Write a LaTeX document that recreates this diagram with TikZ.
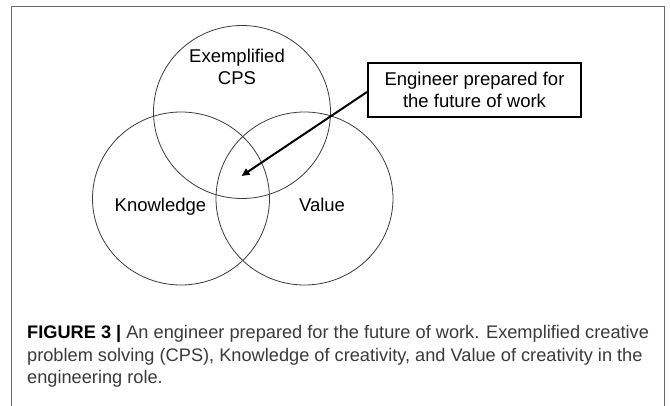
\documentclass[tikz,border=0pt]{standalone}
\usepackage{fontspec}
\setmainfont{Liberation Sans}
\usetikzlibrary{arrows.meta}
\definecolor{framegray}{HTML}{6A6A6A}
\definecolor{circgray}{HTML}{3C3C3C}
\definecolor{captext}{HTML}{3A3A3A}
\tikzset{
  venn/.style={draw=circgray, line width=0.8pt},
  vlabel/.style={font=\fontsize{18.5}{22}\selectfont, text=black, inner sep=0pt, align=center},
  notebox/.style={draw=black, line width=2pt, minimum width=213pt, minimum height=54pt, inner sep=0pt, align=center, font=\fontsize{18.5}{21.5}\selectfont},
  pointer/.style={draw=black, line width=2pt, -{Triangle[length=8pt,width=7pt]}},
  capline/.style={anchor=base west, inner sep=0pt, text=captext, font=\fontsize{18.2}{22}\selectfont},
}
\begin{document}
\begin{tikzpicture}[x=1pt,y=-1pt]
\fill[white] (0,0) rectangle (670,406);
\useasboundingbox (0,0) rectangle (670,406);
% outer frame (open at the bottom)
\draw[framegray, line width=1pt] (11.5,406) -- (11.5,6.5) -- (664,6.5) -- (664,406);
% Venn ellipses
\draw[venn] (242,112) ellipse [x radius=88.5pt, y radius=86.5pt];
\draw[venn] (181,198.5) ellipse [x radius=88.5pt, y radius=86.5pt];
\draw[venn] (304.5,198.5) ellipse [x radius=88.5pt, y radius=86.5pt];
% labels
\node[vlabel, anchor=base] (cps) at (237,85) {Exemplified\\CPS};
\node[vlabel, anchor=base] (know) at (160.5,212) {Knowledge};
\node[vlabel, anchor=base] (val) at (322,212) {Value};
% callout box and arrow
\node[notebox] (box) at (474.5,90) {Engineer prepared for\\the future of work};
\coordinate (tip) at (241.5,176);
\draw[pointer] ([yshift=-2pt]box.west) -- (tip);
% caption
\node[capline] (cap1) at (27,339) {\textbf{\color{black}FIGURE 3 |} An engineer prepared for the future of work. Exemplified creative};
\node[capline] (cap2) at (27,361) {problem solving (CPS), Knowledge of creativity, and Value of creativity in the};
\node[capline] (cap3) at (27,383) {engineering role.};
\end{tikzpicture}
\end{document}
